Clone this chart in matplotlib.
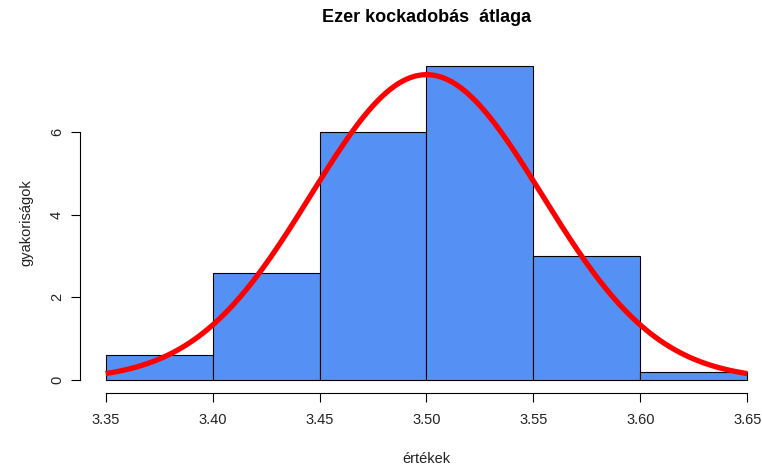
import numpy as np
import matplotlib
matplotlib.use("Agg")
import matplotlib.pyplot as plt

plt.rcParams['font.family'] = ['Liberation Sans', 'DejaVu Sans']

# Histogram data (density)
bin_edges = [3.35, 3.40, 3.45, 3.50, 3.55, 3.60, 3.65]
densities = [0.6, 2.6, 6.0, 7.6, 3.0, 0.2]
x_ticks = [3.35, 3.40, 3.45, 3.50, 3.55, 3.60, 3.65]
x_tick_labels = ["3.35", "3.40", "3.45", "3.50", "3.55", "3.60", "3.65"]
y_ticks = [0, 2, 4, 6]
# Normal curve parameters
curve_mean = 3.5
curve_sd = 0.054

W, H = 762, 465
fig = plt.figure(figsize=(W / 100, H / 100), dpi=100)
left_px, right_px = 80, 773
top_px, bottom_px = 53.3, 392.6
ax = fig.add_axes([left_px / W, (H - bottom_px) / H, (right_px - left_px) / W, (bottom_px - top_px) / H])

widths = np.diff(bin_edges)
ax.bar(bin_edges[:-1], densities, width=widths, align='edge',
       color='#5591F5', edgecolor='black', linewidth=0.8)

xs = np.linspace(bin_edges[0], bin_edges[-1], 400)
ys = np.exp(-0.5 * ((xs - curve_mean) / curve_sd) ** 2) / (curve_sd * np.sqrt(2 * np.pi))
ax.plot(xs, ys, color='#FF0000', linewidth=3.8, solid_capstyle='butt')

ymax = max(densities)
rng = bin_edges[-1] - bin_edges[0]
ax.set_xlim(bin_edges[0] - 0.04 * rng, bin_edges[-1] + 0.04 * rng)
ax.set_ylim(-0.04 * ymax, ymax * 1.04)

for s in ['top', 'right']:
    ax.spines[s].set_visible(False)
ax.spines['left'].set_bounds(y_ticks[0], y_ticks[-1])
ax.spines['bottom'].set_bounds(x_ticks[0], x_ticks[-1])
ax.spines['left'].set_linewidth(0.8)
ax.spines['bottom'].set_linewidth(0.8)

ax.set_xticks(x_ticks)
ax.set_xticklabels(x_tick_labels, fontsize=10.5, color='#222222')
ax.set_yticks(y_ticks)
ax.set_yticklabels([str(v) for v in y_ticks], fontsize=10.5, rotation=90, va='center', color='#222222')
ax.tick_params(axis='both', direction='out', length=6.5, width=0.8)
ax.tick_params(axis='x', pad=8)
ax.tick_params(axis='y', pad=5)

ax.set_xlabel("értékek", fontsize=10.5, labelpad=18, color='#222222')
ax.set_ylabel("gyakoriságok", fontsize=10.5, labelpad=12, color='#222222')
fig.text((left_px + right_px) / 2 / W, 1 - 18 / H, "Ezer kockadobás  átlaga",
         ha='center', va='center', fontsize=13, fontweight='bold')

fig.savefig("out.png", dpi=100)
